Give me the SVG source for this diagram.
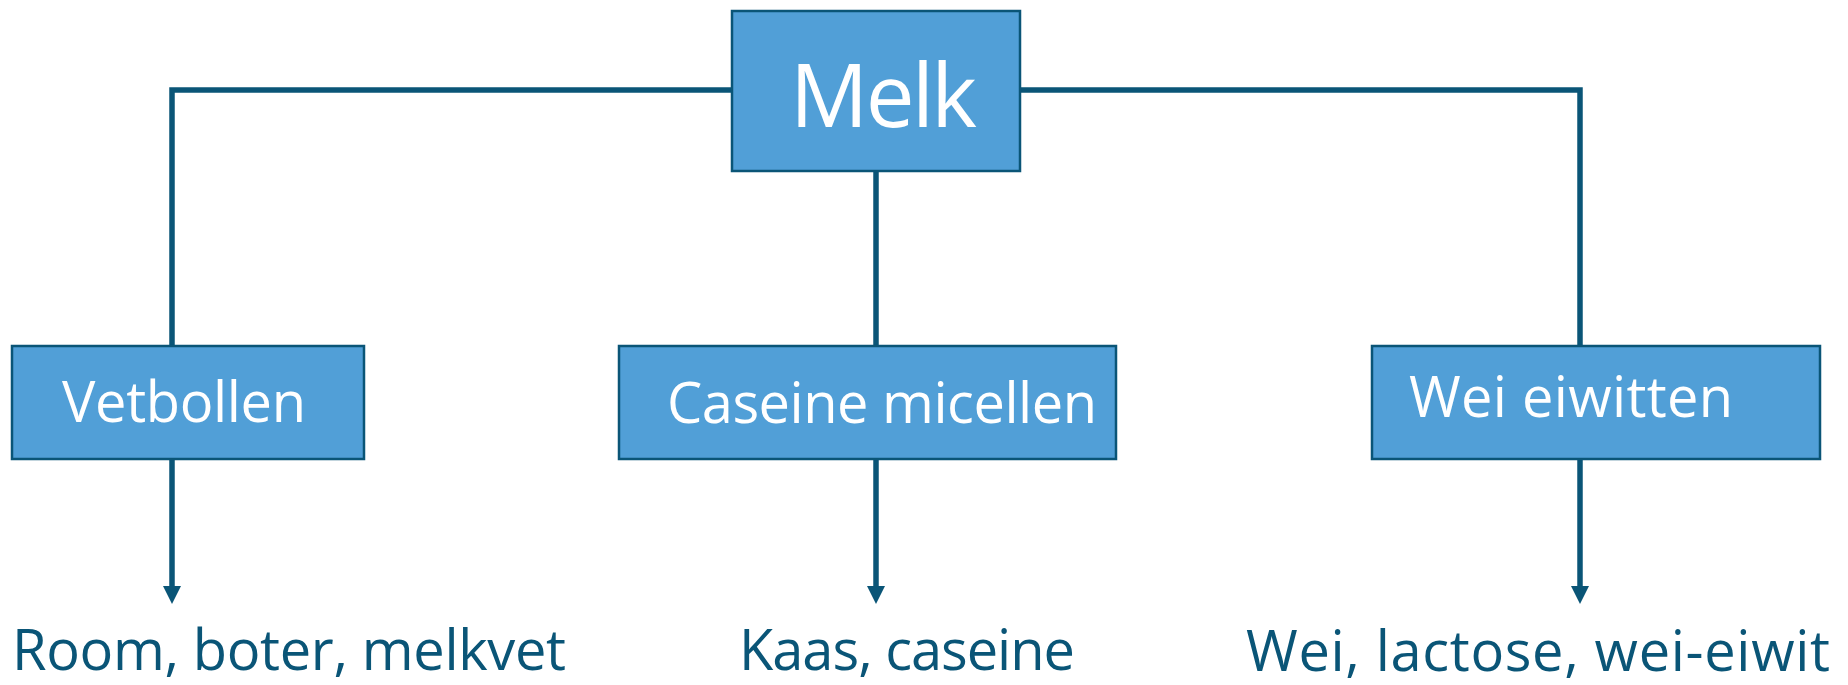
<svg xmlns="http://www.w3.org/2000/svg" width="1848" height="685" viewBox="0 0 1848 685">
<style>
.box{fill:#519fd7;stroke:#0a5577;stroke-width:2.5}
.lbl{font-family:"Open Sans","Noto Sans",sans-serif;fill:#ffffff}
.out{font-family:"Open Sans","Noto Sans",sans-serif;fill:#0a5577;font-size:56px}
.con{fill:none;stroke:#0a5577;stroke-width:5.5;stroke-linejoin:miter}
</style>
<defs>
<marker id="arr" viewBox="0 0 18 18" markerWidth="18" markerHeight="18" refX="0" refY="9" orient="auto" markerUnits="userSpaceOnUse">
<path d="M0,0 L18,9 L0,18 z" fill="#0a5577"/>
</marker>
</defs>
<g id="connectors">
<path class="con" d="M732,90 H172 V346"/>
<path class="con" d="M1020,90 H1580 V346"/>
<path class="con" d="M876,171 V346"/>
<path class="con" d="M172,459 V586" marker-end="url(#arr)"/>
<path class="con" d="M876,459 V586" marker-end="url(#arr)"/>
<path class="con" d="M1580,459 V586" marker-end="url(#arr)"/>
</g>
<g id="melk">
<rect class="box" x="732" y="11" width="288" height="160"/>
<text class="lbl" x="790" y="127" font-size="87" textLength="187">Melk</text>
</g>
<g id="vetbollen">
<rect class="box" x="12" y="346" width="352" height="113"/>
<text class="lbl" x="62" y="422" font-size="56" textLength="244">Vetbollen</text>
</g>
<g id="caseine">
<rect class="box" x="619" y="346" width="497" height="113"/>
<text class="lbl" x="667" y="423" font-size="56" textLength="430">Caseine micellen</text>
</g>
<g id="wei">
<rect class="box" x="1372" y="346" width="448" height="113"/>
<text class="lbl" x="1409" y="417" font-size="56" textLength="324">Wei eiwitten</text>
</g>
<g id="out-vet">
<text class="out" x="12" y="670" textLength="554">Room, boter, melkvet</text>
</g>
<g id="out-caseine">
<text class="out" x="739" y="670" textLength="336">Kaas, caseine</text>
</g>
<g id="out-wei">
<text class="out" x="1246" y="671" textLength="584">Wei, lactose, wei-eiwit</text>
</g>
</svg>
